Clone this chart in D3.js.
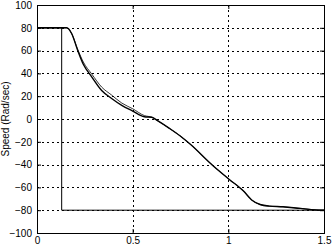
<!DOCTYPE html>
<html>
<head>
<meta charset="utf-8">
<script src="https://cdn.jsdelivr.net/npm/d3@7"></script>
<style>
  body { margin: 0; background: #fff; }
  svg text { font-family: Arial, "Liberation Sans", sans-serif; font-size: 10px; fill: #000; }
</style>
</head>
<body>
<div id="chart"></div>
<script type="text/javascript">

      // chart values
      var refTime  = [0, 0.129, 0.129, 1.5];
      var refSpeed = [80, 80, -80, -80];

      var time     = [0, 0.155, 0.181, 0.213, 0.242, 0.286, 0.338, 0.390, 0.443, 0.500, 0.561, 0.600, 0.630, 0.690, 0.747, 0.800, 0.920, 1.005, 1.078, 1.122, 1.166, 1.213, 1.286, 1.375, 1.488, 1.5];
      var speed    = [80, 80, 75, 60, 48, 37, 25, 18, 12, 7, 2, 1.5, -1.5, -8, -14.7, -22, -41, -53, -63, -71, -75, -76.4, -77, -78.4, -80, -80];
      var estSpeed = [80, 80, 75, 61, 50, 39.5, 28, 21, 14, 9, 3, 1.5, -1.5, -8, -14.7, -22, -41, -53, -63, -71, -75, -76.4, -77, -78.4, -80, -80];

      var xTicks = [0, 0.5, 1, 1.5];
      var yTicks = [-100, -80, -60, -40, -20, 0, 20, 40, 60, 80, 100];

      var margin = {top: 5, right: 8, left: 37, bottom: 14};
      var W = 332, H = 247;
      var w = W - margin.left - margin.right;
      var h = H - margin.top - margin.bottom;

      var svg = d3.select("#chart")
                  .append("svg")
                  .attr("width", W)
                  .attr("height", H);

      var g = svg.append("g")
                 .attr("transform", "translate(" + margin.left + "," + margin.top + ")");

      var x = d3.scaleLinear().domain([0, 1.5]).range([0, w]);
      var y = d3.scaleLinear().domain([-100, 100]).range([h, 0]);

      // dotted grid
      g.selectAll(".gy")
       .data(yTicks.filter(function(d) { return d > -100 && d < 100; }))
       .enter()
       .append("line")
       .attr("x1", 0).attr("x2", w)
       .attr("y1", function(d) { return Math.round(y(d)) + 0.5; })
       .attr("y2", function(d) { return Math.round(y(d)) + 0.5; })
       .attr("stroke", "#000")
       .attr("stroke-dasharray", "2,3");

      g.selectAll(".gx")
       .data(xTicks.filter(function(d) { return d > 0 && d < 1.5; }))
       .enter()
       .append("line")
       .attr("y1", 0).attr("y2", h)
       .attr("x1", function(d) { return Math.round(x(d)) + 0.5; })
       .attr("x2", function(d) { return Math.round(x(d)) + 0.5; })
       .attr("stroke", "#000")
       .attr("stroke-dasharray", "2,3");

      // axes (ticks inward, box)
      var xAxis = d3.axisBottom(x).tickValues(xTicks).tickSize(-4).tickPadding(4)
                    .tickFormat(function(d) { return d === 0 ? "0" : String(d); });
      var yAxis = d3.axisLeft(y).tickValues(yTicks).tickSize(-4).tickPadding(5);

      var gx = g.append("g").attr("transform", "translate(0," + h + ")").call(xAxis);
      var gy = g.append("g").call(yAxis);
      [gx, gy].forEach(function(a) {
        a.select(".domain").remove();
        a.selectAll("text").style("font-family", "Arial, 'Liberation Sans', sans-serif").style("font-size", "10px");
      });
      gx.selectAll("text").attr("y", 4).attr("dy", "0.71em");
      g.append("g").attr("transform", "translate(" + w + ",0)")
       .call(d3.axisRight(y).tickValues(yTicks).tickSize(-4).tickFormat(""))
       .select(".domain").remove();
      g.append("g")
       .call(d3.axisTop(x).tickValues(xTicks).tickSize(-4).tickFormat(""))
       .select(".domain").remove();

      g.append("rect")
       .attr("x", 0.5).attr("y", 0.5)
       .attr("width", w).attr("height", h)
       .attr("fill", "none")
       .attr("stroke", "#000");

      var line = d3.line()
                   .x(function(d) { return x(d[0]); })
                   .y(function(d) { return y(d[1]); });

      g.append("path")
       .attr("d", line(d3.zip(refTime, refSpeed)))
       .attr("fill", "none")
       .attr("stroke", "#000")
       .attr("stroke-width", 1);

      g.append("path")
       .attr("d", line.curve(d3.curveMonotoneX)(d3.zip(time, estSpeed)))
       .attr("fill", "none")
       .attr("stroke", "#000")
       .attr("stroke-width", 0.8);

      g.append("path")
       .attr("d", line.curve(d3.curveMonotoneX)(d3.zip(time, speed)))
       .attr("fill", "none")
       .attr("stroke", "#000")
       .attr("stroke-width", 1.4);

      svg.append("text")
         .attr("transform", "translate(9," + (margin.top + h / 2) + ") rotate(-90)")
         .attr("text-anchor", "middle")
         .text("Speed (Rad/sec)");

</script>
</body>
</html>
